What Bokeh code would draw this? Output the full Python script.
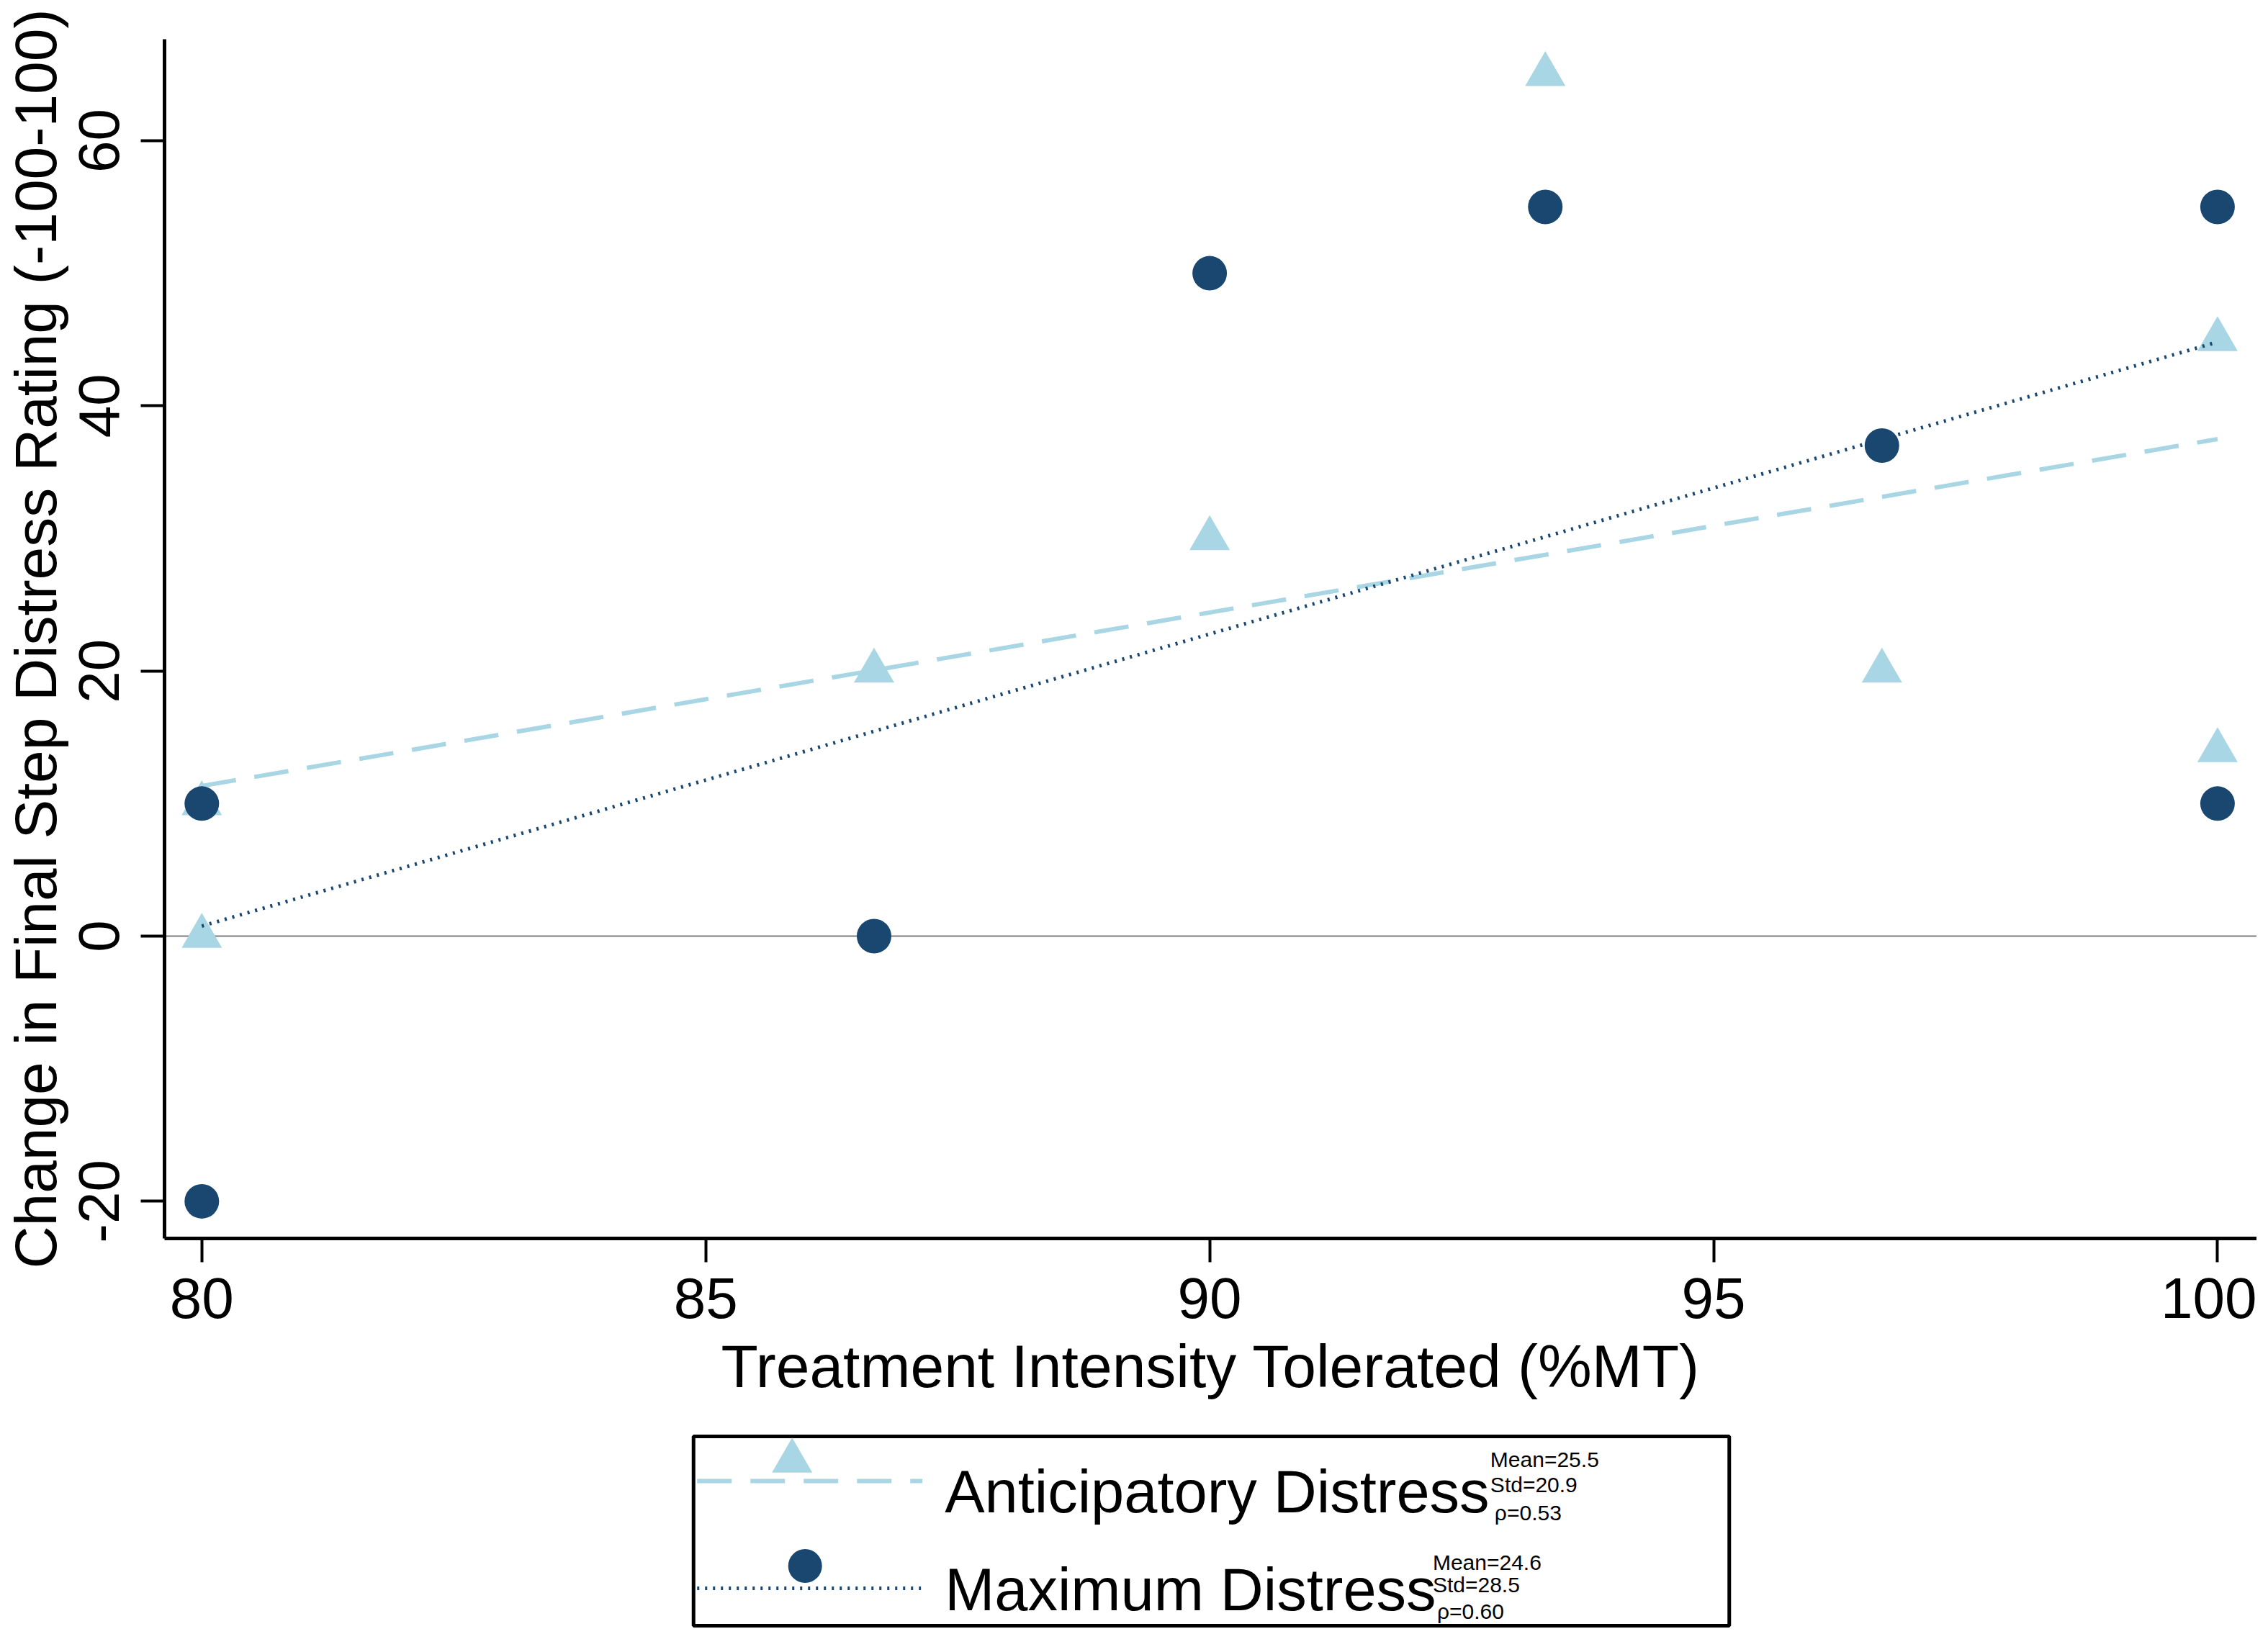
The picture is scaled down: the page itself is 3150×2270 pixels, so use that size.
import numpy as np
from bokeh.plotting import figure
from bokeh.models import Range1d, FixedTicker, Span, ColumnDataSource
from bokeh.layouts import column
from bokeh.embed import file_html
from bokeh.resources import INLINE
from bokeh.core.properties import value

# ---------------- data ----------------
x_ticks = [80, 85, 90, 95, 100]
y_ticks = [-20, 0, 20, 40, 60]
y_tick_labels = ["-20", "0", "20", "40", "60"]
intensity = [80, 80, 86.67, 90, 93.33, 96.67, 100, 100]
anticipatory = [0, 10, 20, 30, 65, 20, 45, 14]
maximum = [10, -20, 0, 50, 55, 37, 55, 10]
series_names = ["Anticipatory Distress", "Maximum Distress"]
stats_antic = ["Mean=25.5", "Std=20.9", "ρ=0.53"]
stats_max = ["Mean=24.6", "Std=28.5", "ρ=0.60"]
x_title = "Treatment Intensity Tolerated (%MT)"
y_title = "Change in Final Step Distress Rating (-100-100)"

# ---------------- style ----------------
FONT = "Liberation Sans"
LB = "#a9d6e4"
NAVY = "#1a476f"
W = 3134
H_MAIN = 1988
H_LEG = 274
FL, FR = 227, W          # frame left / right in canvas pixels
FT, FB = 54, 1720        # frame top / bottom in canvas pixels

# linear fits
fit_x = [min(intensity), max(intensity)]
ca = np.polyfit(intensity, anticipatory, 1)
cm = np.polyfit(intensity, maximum, 1)
fit_a = [float(np.polyval(ca, v)) for v in fit_x]
fit_m = [float(np.polyval(cm, v)) for v in fit_x]

p = figure(width=W, height=H_MAIN,
           x_range=Range1d(79.63, 100.39), y_range=Range1d(-22.8, 67.65),
           output_backend="svg", toolbar_location=None,
           min_border_left=FL, min_border_right=W - FR,
           min_border_top=FT, min_border_bottom=H_MAIN - FB)
p.outline_line_color = None
p.grid.visible = False
p.background_fill_color = "white"
p.border_fill_color = "white"

p.add_layout(Span(location=0, dimension="width", line_color="#7f7f7f",
                  line_width=2, level="underlay"))

src = ColumnDataSource(dict(x=intensity, a=anticipatory, m=maximum))
p.scatter("x", "a", source=src, marker="triangle", size=56,
          fill_color=LB, line_color=None)
p.line(fit_x, fit_a, line_color=LB, line_width=6, line_dash="48 26")
p.line(fit_x, fit_m, line_color=NAVY, line_width=5, line_dash="3 8")
p.scatter("x", "m", source=src, marker="circle", size=48,
          fill_color=NAVY, line_color=None)

p.xaxis.ticker = FixedTicker(ticks=x_ticks)
p.yaxis.ticker = FixedTicker(ticks=y_ticks)
p.yaxis.major_label_overrides = {t: s for t, s in zip(y_ticks, y_tick_labels)}
p.xaxis.axis_label = x_title
p.yaxis.axis_label = y_title
p.yaxis.major_label_orientation = "vertical"
for ax in (p.xaxis[0], p.yaxis[0]):
    ax.axis_line_width = 5
    ax.axis_line_color = "black"
    ax.major_tick_line_width = 4
    ax.major_tick_line_color = "black"
    ax.major_tick_out = 33
    ax.major_tick_in = 0
    ax.minor_tick_line_color = None
    ax.major_label_text_font = FONT
    ax.major_label_text_font_size = "80px"
    ax.major_label_text_color = "black"
    ax.axis_label_text_font = FONT
    ax.axis_label_text_font_size = "84px"
    ax.axis_label_text_font_style = "normal"
    ax.axis_label_text_color = "black"
p.yaxis.axis_label_text_font_size = "82px"
p.xaxis.major_label_standoff = 22
p.xaxis.axis_label_standoff = 17
p.yaxis.major_label_standoff = 30
p.yaxis.axis_label_standoff = 13

# ---------------- legend panel (data units = canvas pixels) ----------------
lg = figure(width=W, height=H_LEG, x_range=Range1d(FL, FR), y_range=Range1d(H_LEG, 0),
            output_backend="svg", toolbar_location=None,
            min_border_left=FL, min_border_right=W - FR,
            min_border_top=0, min_border_bottom=0)
lg.axis.visible = False
lg.grid.visible = False
lg.outline_line_color = None
lg.background_fill_color = "white"
lg.border_fill_color = "white"

lg.quad(left=[962], right=[2401], top=[7], bottom=[270], fill_color=None,
        line_color="black", line_width=5)
lg.scatter([1099], [41], marker="triangle", size=56, fill_color=LB, line_color=None)
lg.line([967, 1280], [69, 69], line_color=LB, line_width=6, line_dash="48 26")
lg.line([967, 1278], [218, 218], line_color=NAVY, line_width=5, line_dash="3 8")
lg.scatter([1117], [187], marker="circle", size=47, fill_color=NAVY, line_color=None)

lg.text(x=[1311, 1311], y=[84, 220], text=series_names,
        text_font=value(FONT), text_font_size=value("83px"),
        text_color="black", text_baseline="alphabetic", text_align="left")
lg.text(x=[2069, 2069, 2075], y=[39, 74, 113], text=stats_antic,
        text_font=value(FONT), text_font_size=value("30px"),
        text_color="black", text_baseline="alphabetic", text_align="left")
lg.text(x=[1989, 1989, 1995], y=[182, 213, 250], text=stats_max,
        text_font=value(FONT), text_font_size=value("30px"),
        text_color="black", text_baseline="alphabetic", text_align="left")

layout = column(p, lg, spacing=0)
open("out.html", "w").write(file_html(layout, INLINE))
